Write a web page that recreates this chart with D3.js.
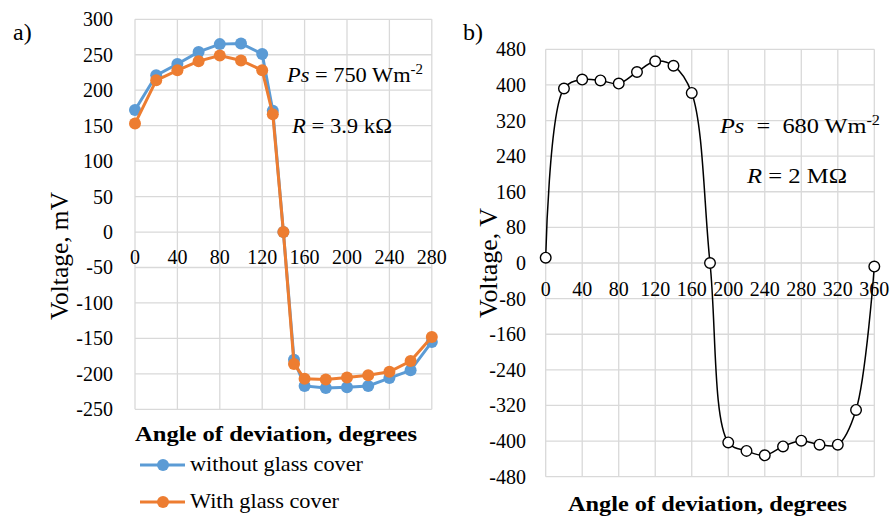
<!DOCTYPE html>
<html><head><meta charset="utf-8">
<script src="https://cdn.jsdelivr.net/npm/d3@7"></script>
<style>
body{margin:0;background:#fff;}
</style></head>
<body><svg id="c" width="890" height="518" font-family="'Liberation Serif', 'Times New Roman', Tinos, 'DejaVu Serif', serif"></svg>
<script>
// ---- Data: chart a) ----
const anglesA = [0,20,40,60,80,100,120,130,140,150,160,180,200,220,240,260,280];
const withoutGlass = [172,221,237,254,265,266,251,171,0,-180,-217,-220,-219,-217,-206,-195,-155];
const withGlass = [153,214,228,241,249,242,228,166,0,-186,-207,-208,-205,-202,-197,-182,-148];
const xTicksA = [0,40,80,120,160,200,240,280];
const yTicksA = [300,250,200,150,100,50,0,-50,-100,-150,-200,-250];
const seriesNamesA = ["without glass cover","With glass cover"];

// ---- Data: chart b) ----
const anglesB = [0,20,40,60,80,100,120,140,160,180,200,220,240,260,280,300,320,340,360];
const voltageB = [12,392,412,410,403,429,453,443,382,0,-403,-422,-432,-412,-399,-408,-408,-330,-8];
const xTicksB = [0,40,80,120,160,200,240,280,320,360];
const yTicksB = [480,400,320,240,160,80,0,-80,-160,-240,-320,-400,-480];

const svg = d3.select("#c");
const grid = "#d9d9d9";
const fs = 20;

// ===== Chart a =====
const xA = d3.scaleLinear().domain([0,280]).range([135,431.8]);
const yA = d3.scaleLinear().domain([-250,300]).range([409.3,19.3]);
const gA = svg.append("g");
gA.selectAll("line.v").data(xTicksA).join("line")
  .attr("x1",d=>xA(d)).attr("x2",d=>xA(d)).attr("y1",yA(300)).attr("y2",yA(-250))
  .attr("stroke",grid).attr("stroke-width",1.3);
gA.selectAll("line.h").data(yTicksA).join("line")
  .attr("y1",d=>yA(d)).attr("y2",d=>yA(d)).attr("x1",xA(0)).attr("x2",xA(280))
  .attr("stroke",grid).attr("stroke-width",1.3);
gA.selectAll("text.yt").data(yTicksA).join("text")
  .attr("x",113).attr("y",d=>yA(d)).attr("dy","0.35em").attr("text-anchor","end")
  .attr("font-size",fs).text(d=>d);
gA.selectAll("text.xt").data(xTicksA).join("text")
  .attr("x",d=>xA(d)).attr("y",yA(0)+32).attr("text-anchor","middle")
  .attr("font-size",fs).text(d=>d);

const colorsA = ["#5B9BD5","#ED7D31"];
[withoutGlass, withGlass].forEach((vals,i)=>{
  const pts = anglesA.map((a,j)=>[a,vals[j]]);
  gA.append("path").datum(pts)
    .attr("d", d3.line().x(d=>xA(d[0])).y(d=>yA(d[1])))
    .attr("fill","none").attr("stroke",colorsA[i]).attr("stroke-width",3);
  gA.selectAll(null).data(pts).join("circle")
    .attr("cx",d=>xA(d[0])).attr("cy",d=>yA(d[1])).attr("r",6)
    .attr("fill",colorsA[i]);
});

svg.append("text").attr("transform","translate(68,256) rotate(-90)")
  .attr("text-anchor","middle").attr("font-size",25)
  .attr("textLength",128).attr("lengthAdjust","spacingAndGlyphs").text("Voltage, mV");
svg.append("text").attr("x",135).attr("y",441)
  .attr("font-size",21).attr("font-weight","bold")
  .attr("textLength",282).attr("lengthAdjust","spacingAndGlyphs").text("Angle of deviation, degrees");
svg.append("text").attr("x",13).attr("y",40).attr("font-size",24).text("a)");

// annotations a
const tA1 = svg.append("text").attr("x",287).attr("y",82).attr("font-size",21)
  .attr("textLength",136).attr("lengthAdjust","spacingAndGlyphs");
tA1.append("tspan").attr("font-style","italic").text("Ps");
tA1.append("tspan").text(" = 750 Wm");
tA1.append("tspan").attr("font-size",14).attr("dy",-8).text("-2");
const tA2 = svg.append("text").attr("x",292).attr("y",133).attr("font-size",21)
  .attr("textLength",100).attr("lengthAdjust","spacingAndGlyphs");
tA2.append("tspan").attr("font-style","italic").text("R");
tA2.append("tspan").text(" = 3.9 kΩ");

// legend a
const legendLen = [173,149];
seriesNamesA.forEach((name,i)=>{
  const ly = 465 + i*37;
  svg.append("line").attr("x1",140).attr("x2",185).attr("y1",ly).attr("y2",ly)
    .attr("stroke",colorsA[i]).attr("stroke-width",3);
  svg.append("circle").attr("cx",163).attr("cy",ly).attr("r",6).attr("fill",colorsA[i]);
  svg.append("text").attr("x",190).attr("y",ly+6.3).attr("font-size",21.5)
    .attr("textLength",legendLen[i]).attr("lengthAdjust","spacingAndGlyphs").text(name);
});

// ===== Chart b =====
const xB = d3.scaleLinear().domain([0,360]).range([545.7,874.3]);
const yB = d3.scaleLinear().domain([-480,480]).range([476.7,49.3]);
const gB = svg.append("g");
gB.selectAll("line.v").data(xTicksB).join("line")
  .attr("x1",d=>xB(d)).attr("x2",d=>xB(d)).attr("y1",yB(480)).attr("y2",yB(-480))
  .attr("stroke",grid).attr("stroke-width",1.3);
gB.selectAll("line.h").data(yTicksB).join("line")
  .attr("y1",d=>yB(d)).attr("y2",d=>yB(d)).attr("x1",xB(0)).attr("x2",xB(360))
  .attr("stroke",grid).attr("stroke-width",1.3);
gB.selectAll("text.yt").data(yTicksB).join("text")
  .attr("x",526).attr("y",d=>yB(d)).attr("dy","0.35em").attr("text-anchor","end")
  .attr("font-size",fs).text(d=>d);
gB.selectAll("text.xt").data(xTicksB).join("text")
  .attr("x",d=>xB(d)).attr("y",yB(0)+33).attr("text-anchor","middle")
  .attr("font-size",fs).text(d=>d);

const ptsB = anglesB.map((a,j)=>[a,voltageB[j]]);
gB.append("path").datum(ptsB)
  .attr("d", d3.line().x(d=>xB(d[0])).y(d=>yB(d[1])).curve(d3.curveCatmullRom.alpha(0.5)))
  .attr("fill","none").attr("stroke","#000").attr("stroke-width",1.5);
gB.selectAll("circle").data(ptsB).join("circle")
  .attr("cx",d=>xB(d[0])).attr("cy",d=>yB(d[1])).attr("r",5.3)
  .attr("fill","#fff").attr("stroke","#000").attr("stroke-width",1.4);

svg.append("text").attr("transform","translate(497,263) rotate(-90)")
  .attr("text-anchor","middle").attr("font-size",25)
  .attr("textLength",110).attr("lengthAdjust","spacingAndGlyphs").text("Voltage, V");
svg.append("text").attr("x",568).attr("y",511)
  .attr("font-size",21).attr("font-weight","bold")
  .attr("textLength",279).attr("lengthAdjust","spacingAndGlyphs").text("Angle of deviation, degrees");
svg.append("text").attr("x",463).attr("y",40).attr("font-size",24).text("b)");

const tB1 = svg.append("text").attr("x",720).attr("y",133).attr("font-size",21)
  .attr("textLength",160).attr("lengthAdjust","spacingAndGlyphs")
  .attr("xml:space","preserve").style("white-space","pre");
tB1.append("tspan").attr("font-style","italic").text("Ps");
tB1.append("tspan").text("  =  680 Wm");
tB1.append("tspan").attr("font-size",14).attr("dy",-8).text("-2");
const tB2 = svg.append("text").attr("x",747).attr("y",183).attr("font-size",21)
  .attr("textLength",100).attr("lengthAdjust","spacingAndGlyphs");
tB2.append("tspan").attr("font-style","italic").text("R");
tB2.append("tspan").text(" = 2 MΩ");
</script></body></html>
